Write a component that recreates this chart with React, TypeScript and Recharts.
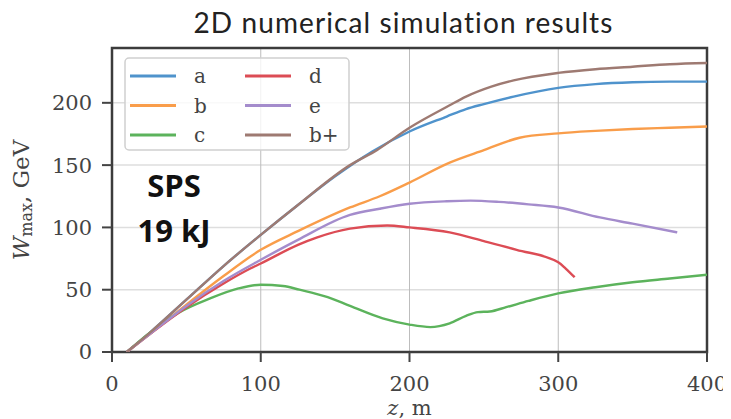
import React from 'react';
import { LineChart, Line, XAxis, YAxis, CartesianGrid, ReferenceArea } from 'recharts';

// z (m) and W_max (GeV)
const seriesA = [
  { z: 10, w: 0 }, { z: 25, w: 15 }, { z: 50, w: 42 }, { z: 75, w: 69 }, { z: 100, w: 94 },
  { z: 125, w: 118 }, { z: 150, w: 141 }, { z: 175, w: 161 }, { z: 200, w: 177 }, { z: 225, w: 189 },
  { z: 238, w: 195 }, { z: 250, w: 199 }, { z: 270, w: 205 }, { z: 300, w: 212 }, { z: 325, w: 215 },
  { z: 350, w: 216.5 }, { z: 375, w: 217 }, { z: 400, w: 217 },
];
const seriesB = [
  { z: 10, w: 0 }, { z: 25, w: 14 }, { z: 50, w: 38 }, { z: 75, w: 61 }, { z: 100, w: 82 },
  { z: 125, w: 97 }, { z: 160, w: 116 }, { z: 180, w: 125 }, { z: 200, w: 136 }, { z: 227, w: 152 },
  { z: 250, w: 162 }, { z: 274, w: 172 }, { z: 300, w: 175.5 }, { z: 325, w: 177.5 }, { z: 350, w: 179 },
  { z: 375, w: 180 }, { z: 400, w: 181 },
];
const seriesC = [
  { z: 10, w: 0 }, { z: 25, w: 15 }, { z: 44, w: 31 }, { z: 66, w: 43 }, { z: 85, w: 51 },
  { z: 100, w: 54 }, { z: 115, w: 53 }, { z: 126, w: 50 }, { z: 145, w: 44 }, { z: 160, w: 37 },
  { z: 182, w: 27 }, { z: 200, w: 22 }, { z: 214, w: 20 }, { z: 227, w: 23 }, { z: 238, w: 29 },
  { z: 246, w: 32 }, { z: 254, w: 32.5 }, { z: 265, w: 36 }, { z: 280, w: 41 }, { z: 300, w: 47 },
  { z: 325, w: 52 }, { z: 350, w: 56 }, { z: 375, w: 59 }, { z: 400, w: 62 },
];
const seriesD = [
  { z: 10, w: 0 }, { z: 25, w: 14 }, { z: 50, w: 36 }, { z: 75, w: 55 }, { z: 93, w: 67 },
  { z: 100, w: 71 }, { z: 125, w: 86 }, { z: 138, w: 92 }, { z: 160, w: 99 }, { z: 185, w: 101.5 },
  { z: 200, w: 100 }, { z: 227, w: 96 }, { z: 250, w: 89 }, { z: 272, w: 82 }, { z: 300, w: 72 },
  { z: 305, w: 67 }, { z: 311, w: 60 },
];
const seriesE = [
  { z: 10, w: 0 }, { z: 25, w: 14 }, { z: 50, w: 37 }, { z: 75, w: 57 }, { z: 100, w: 74 },
  { z: 125, w: 90 }, { z: 160, w: 110 }, { z: 180, w: 115 }, { z: 200, w: 119 }, { z: 225, w: 121 },
  { z: 241, w: 121.5 }, { z: 260, w: 120.5 }, { z: 280, w: 118.5 }, { z: 300, w: 116 }, { z: 328, w: 108 },
  { z: 350, w: 103 }, { z: 380, w: 96 },
];
const seriesBPlus = [
  { z: 10, w: 0 }, { z: 25, w: 15 }, { z: 50, w: 42 }, { z: 75, w: 69 }, { z: 100, w: 94 },
  { z: 125, w: 118 }, { z: 160, w: 150 }, { z: 178, w: 162 }, { z: 200, w: 180 }, { z: 227, w: 198 },
  { z: 238, w: 205 }, { z: 255, w: 213 }, { z: 270, w: 218 }, { z: 300, w: 224 }, { z: 325, w: 227 },
  { z: 350, w: 229 }, { z: 375, w: 231 }, { z: 400, w: 232 },
];

const xTicks = [0, 100, 200, 300, 400];
const yTicks = [0, 50, 100, 150, 200];
const legendLabels = ['a', 'b', 'c', 'd', 'e', 'b+'];
const colors = ['#4f93cc', '#f99d4a', '#5cb35c', '#dc4c55', '#a48ccc', '#9e7a72'];
const allSeries = [seriesA, seriesB, seriesC, seriesD, seriesE, seriesBPlus];
const titleText = '2D numerical simulation results';

const W = 723;
const H = 411;
const serif = '"DejaVu Serif", serif';

const YLabel = (props: any) => {
  const vb = props.viewBox || { x: 0, y: 40, width: 104, height: 304 };
  const cx = 13;
  const cy = vb.y + vb.height / 2;
  return (
    <text
      x={cx}
      y={cy}
      transform={`rotate(-90, ${cx}, ${cy})`}
      textAnchor="middle"
      dominantBaseline="central"
      fontFamily={serif}
      fontSize={23}
      fill="#444"
    >
      <tspan fontStyle="italic">W</tspan>
      <tspan fontSize={16} dy={5}>max</tspan>
      <tspan dy={-5}>, GeV</tspan>
    </text>
  );
};

const XLabel = (props: any) => {
  const vb = props.viewBox || { x: 104, y: 344, width: 595, height: 67 };
  const cx = vb.x + vb.width / 2;
  return (
    <text x={cx} y={407} textAnchor="middle" fontFamily={serif} fontSize={21} fill="#444">
      <tspan fontStyle="italic">z</tspan>
      <tspan>, m</tspan>
    </text>
  );
};

export default function App() {
  const legendRows = [0, 1, 2];
  return (
    <div style={{ position: 'relative', width: W, height: H }}>
      <LineChart width={W} height={H} margin={{ top: 40, right: 24, bottom: 0, left: 0 }}>
        <CartesianGrid horizontal={true} vertical={false} stroke="#dedede" strokeWidth={1.5} />
        <CartesianGrid horizontal={false} vertical={true} stroke="#bdbdbd" strokeWidth={1} />
        <XAxis
          type="number"
          dataKey="z"
          domain={[0, 400]}
          ticks={xTicks}
          allowDataOverflow
          height={67}
          axisLine={false}
          tickLine={{ stroke: '#444', strokeWidth: 2 }}
          tickSize={10}
          tickMargin={14}
          tick={{ fontFamily: serif, fontSize: 21, fill: '#444' }}
          label={{ content: XLabel }}
        />
        <YAxis
          type="number"
          domain={[0, 244]}
          ticks={yTicks}
          allowDataOverflow
          width={104}
          axisLine={false}
          tickLine={{ stroke: '#444', strokeWidth: 2 }}
          tickSize={10}
          tickMargin={10}
          tick={{ fontFamily: serif, fontSize: 21, fill: '#444' }}
          label={{ content: YLabel }}
        />
        {allSeries.map((s, i) => (
          <Line
            key={legendLabels[i]}
            data={s}
            dataKey="w"
            type="monotone"
            stroke={colors[i]}
            strokeWidth={2.4}
            dot={false}
            isAnimationActive={false}
          />
        ))}
        <ReferenceArea
          x1={0}
          x2={400}
          y1={0}
          y2={244}
          fill="none"
          fillOpacity={0}
          stroke="#3c3c3c"
          strokeWidth={2.5}
          ifOverflow="visible"
        />
      </LineChart>
      <div
        style={{
          position: 'absolute',
          left: 175.5,
          top: 0,
          width: 440,
          textAlign: 'center',
          whiteSpace: 'nowrap',
          fontFamily: 'Lato, sans-serif',
          fontSize: 28,
          lineHeight: '28px',
          letterSpacing: '1.1px',
          color: '#222',
        }}
      >
        {titleText}
      </div>
      <svg
        width={W}
        height={H}
        style={{ position: 'absolute', left: 0, top: 0, pointerEvents: 'none' }}
      >
        <rect x={117} y={50} width={224} height={92} rx={4} fill="#fff" fillOpacity={0.8} stroke="#cfcfcf" strokeWidth={1.5} />
        {legendLabels.map((lab, i) => {
          const col = Math.floor(i / 3);
          const row = legendRows[i % 3];
          const y = 68 + row * 29.5;
          const x0 = col === 0 ? 122 : 237;
          return (
            <g key={lab}>
              <line x1={x0} x2={x0 + 46} y1={y} y2={y} stroke={colors[i]} strokeWidth={3} />
              <text x={x0 + 64} y={y + 7} fontFamily={serif} fontSize={20} fill="#444">
                {lab}
              </text>
            </g>
          );
        })}
        <text x={166} y={189} textAnchor="middle" fontFamily='"Open Sans", sans-serif' fontWeight={700} fontSize={31} fill="#111">
          SPS
        </text>
        <text x={166} y={234} textAnchor="middle" fontFamily='"Open Sans", sans-serif' fontWeight={700} fontSize={31} fill="#111">
          19 kJ
        </text>
      </svg>
    </div>
  );
}
